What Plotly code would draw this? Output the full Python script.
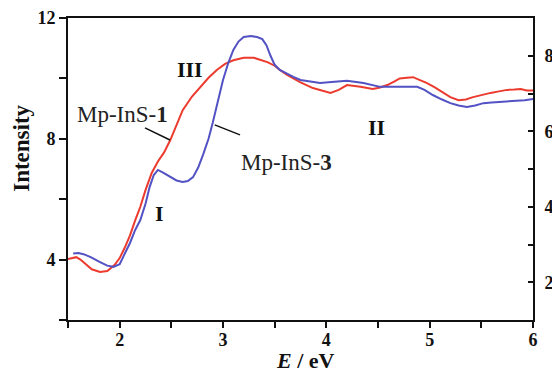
import plotly.graph_objects as go

# ---- data ----
E_red = [1.50,1.55,1.58,1.62,1.67,1.73,1.81,1.88,1.95,2.00,2.05,2.10,2.15,2.20,2.25,2.31,2.37,2.43,2.49,2.55,
         2.61,2.70,2.78,2.86,2.94,3.02,3.10,3.20,3.30,3.43,3.50,3.55,3.62,3.68,3.75,3.87,3.96,4.04,4.12,4.20,
         4.33,4.45,4.52,4.59,4.66,4.71,4.78,4.84,4.90,4.97,5.05,5.13,5.20,5.28,5.35,5.42,5.50,5.59,5.67,5.75,
         5.82,5.88,5.94,6.00]
I_red = [4.02,4.05,4.08,4.00,3.85,3.68,3.59,3.62,3.82,4.05,4.40,4.80,5.30,5.75,6.30,6.87,7.25,7.55,7.96,8.45,
         8.95,9.40,9.72,10.02,10.28,10.48,10.60,10.68,10.68,10.54,10.42,10.28,10.12,10.00,9.87,9.68,9.60,9.52,9.62,9.78,
         9.72,9.65,9.70,9.78,9.90,10.00,10.02,10.04,9.95,9.85,9.70,9.52,9.38,9.28,9.30,9.38,9.45,9.52,9.57,9.62,
         9.63,9.65,9.60,9.60]

E_blue = [1.55,1.60,1.65,1.72,1.81,1.88,1.94,2.00,2.05,2.10,2.15,2.20,2.25,2.29,2.33,2.37,2.42,2.49,2.55,2.61,
          2.66,2.71,2.76,2.81,2.86,2.90,2.95,3.00,3.05,3.10,3.15,3.20,3.27,3.33,3.38,3.42,3.46,3.50,3.55,3.62,
          3.68,3.75,3.85,3.94,4.05,4.20,4.36,4.52,4.68,4.78,4.88,4.95,5.03,5.12,5.20,5.28,5.36,5.44,5.52,5.60,
          5.68,5.76,5.85,5.92,6.00]
I_blue = [4.20,4.22,4.18,4.08,3.92,3.80,3.76,3.85,4.20,4.55,4.98,5.31,5.85,6.40,6.80,6.97,6.88,6.75,6.62,6.57,
          6.60,6.73,7.05,7.50,8.00,8.52,9.25,9.95,10.50,10.94,11.22,11.37,11.40,11.37,11.30,11.10,10.75,10.45,10.28,10.15,
          10.05,9.95,9.90,9.85,9.88,9.92,9.85,9.72,9.72,9.72,9.72,9.62,9.45,9.30,9.18,9.10,9.05,9.10,9.18,9.20,
          9.22,9.24,9.25,9.28,9.32]

x_ticks = [1.5, 2, 2.5, 3, 3.5, 4, 4.5, 5, 5.5, 6]
x_labels = ["", "2", "", "3", "", "4", "", "5", "", "6"]
yl_ticks = [2, 4, 6, 8, 10, 12]
yl_labels = ["", "4", "", "8", "", "12"]
yr_ticks = [2, 3, 4, 5, 6, 7, 8]
yr_labels = ["2", "", "4", "", "6", "", "8"]

SERIF = "Liberation Serif, Times New Roman, serif"
RED = "#ec3b2e"
BLUE = "#5252c4"

fig = go.Figure()
fig.add_trace(go.Scatter(x=E_red, y=I_red, mode="lines", line=dict(color=RED, width=2),
                         name="Mp-InS-1", showlegend=False))
fig.add_trace(go.Scatter(x=E_blue, y=I_blue, mode="lines", line=dict(color=BLUE, width=2),
                         name="Mp-InS-3", showlegend=False))
# invisible trace to activate right axis
fig.add_trace(go.Scatter(x=[None], y=[None], yaxis="y2", showlegend=False))

tickfont = dict(family=SERIF, size=18, color="#111", weight="bold")
fig.update_layout(
    width=552, height=374,
    margin=dict(l=68, r=19, t=18, b=54, autoexpand=False),
    paper_bgcolor="white", plot_bgcolor="white",
    xaxis=dict(range=[1.5, 6], tickvals=x_ticks, ticktext=x_labels, ticks="outside", ticklen=6,
               tickwidth=1.5, tickcolor="#111", showline=True, linecolor="#111", linewidth=1.8,
               mirror=True, showgrid=False, zeroline=False, tickfont=tickfont, ticklabelstandoff=-4,
               automargin=False),
    yaxis=dict(range=[2, 12], tickvals=yl_ticks, ticktext=yl_labels, ticks="outside", ticklen=7,
               tickwidth=1.5, tickcolor="#111", showline=True, linecolor="#111", linewidth=1.8,
               showgrid=False, zeroline=False, tickfont=tickfont, automargin=False),
    yaxis2=dict(range=[1, 9], overlaying="y", side="right", tickvals=yr_ticks, ticktext=yr_labels,
                ticks="inside", ticklen=5, tickwidth=1.5, tickcolor="#111", showline=True,
                linecolor="#111", linewidth=1.8, showgrid=False, zeroline=False,
                tickfont=tickfont, ticklabelstandoff=6, automargin=False),
)

ann_font = dict(family=SERIF, size=23, color="#222")
bold_font = dict(family=SERIF, size=22, color="#111")
fig.add_annotation(x=2.03, y=8.79, text="Mp-InS-<b>1</b>", showarrow=False, font=ann_font)
fig.add_annotation(x=3.61, y=7.23, text="Mp-InS-<b>3</b>", showarrow=False, font=ann_font)
fig.add_annotation(x=2.68, y=10.28, text="<b>III</b>", showarrow=False, font=bold_font)
fig.add_annotation(x=2.39, y=5.54, text="<b>I</b>", showarrow=False, font=bold_font)
fig.add_annotation(x=4.49, y=8.39, text="<b>II</b>", showarrow=False, font=bold_font)

fig.add_shape(type="line", x0=2.245, y0=8.36, x1=2.487, y1=7.96, line=dict(color="#111", width=1.5))
fig.add_shape(type="line", x0=2.92, y0=8.46, x1=3.165, y1=8.13, line=dict(color="#111", width=1.5))

# axis titles
fig.add_annotation(xref="paper", yref="paper", x=0.51, y=-0.135, yanchor="middle", showarrow=False,
                   text="<b><i>E</i> / eV</b>", font=dict(family=SERIF, size=22, color="#111"))
fig.add_annotation(xref="paper", yref="paper", x=-0.099, y=0.57, xanchor="center", showarrow=False,
                   textangle=-90, text="<b>Intensity</b>", font=dict(family=SERIF, size=23, color="#111"))

fig.write_html("out.html", config={"displayModeBar": False},
               post_script="document.body.style.margin='0';document.body.style.overflow='hidden';")
